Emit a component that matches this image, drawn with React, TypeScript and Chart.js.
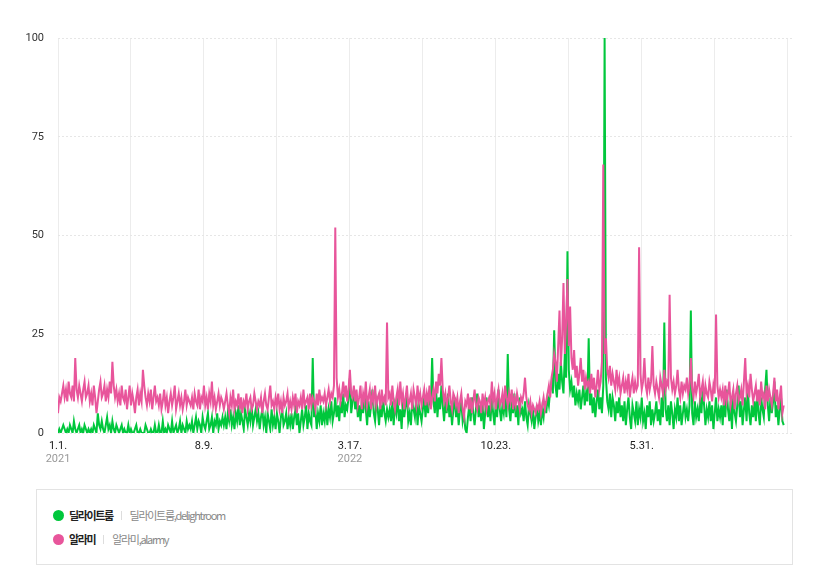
import React, { useEffect, useRef } from "react";
import { Chart, registerables } from "chart.js";

Chart.register(...registerables);

// ---- data (one point every 2 days, starting 2021-01-01) ----
const STEP_DAYS = 2;
const X_MAX_DAYS = 1108;
const GRID_DAYS = [0, 110, 220, 330, 440, 550, 660, 770, 880, 990, 1100];
const TICK_DAYS = [0, 220, 440, 660, 880];
const TICK_LABELS = ["1.1.", "8.9.", "3.17.", "10.23.", "5.31."];
const YEAR_LABELS = ["2021", "", "2022", "", ""];
const Y_TICKS = [0, 25, 50, 75, 100];

const SERIES_NAMES = ["딜라이트룸", "알라미"];
const SERIES_KEYWORDS = ["딜라이트룸,delightroom", "알라미,alarmy"];
const SERIES_COLORS = ["#00c73c", "#e8559b"];

const DELIGHTROOM = [
  0,1,0,1,2,1,0,1,0,2,1,0,3,1,0,1,2,0,1,0,2,1,0,1,0,
  1,0,2,1,0,5,2,1,3,1,0,2,4,1,2,0,3,1,0,2,1,0,1,2,0,
  1,0,0,2,0,1,0,0,1,2,0,0,1,0,0,0,2,1,0,0,1,0,0,2,0,
  0,2,0,0,3,0,1,0,2,1,0,3,0,1,2,0,1,3,0,2,1,0,3,1,2,
  1,3,0,2,4,1,3,2,0,4,2,1,3,5,1,2,4,0,3,2,5,1,3,2,4,
  2,4,1,5,3,6,2,4,1,5,3,7,2,5,3,1,6,4,2,5,3,7,2,4,6,
  3,5,1,4,6,2,4,0,5,3,1,6,2,4,1,5,3,0,4,6,2,3,5,1,4,
  2,5,1,4,6,2,5,0,3,6,2,4,7,1,5,3,2,19,4,6,1,5,3,7,2,
  5,3,7,2,6,4,8,3,5,9,4,7,3,8,5,10,4,7,6,9,14,5,8,11,6,
  9,4,7,3,8,5,10,6,2,8,4,7,11,5,3,8,6,2,7,4,9,5,3,6,4,
  6,3,8,2,7,5,9,3,6,1,8,4,7,10,3,5,2,8,6,4,9,2,7,5,3,
  6,9,4,8,5,10,7,19,8,5,11,4,9,6,12,7,3,8,5,10,4,7,2,6,9,
  4,7,2,6,8,3,5,1,0,4,7,3,9,5,2,6,10,4,7,3,8,1,5,9,4,
  7,3,9,5,2,8,4,11,6,3,7,5,9,4,20,6,3,8,5,10,4,7,2,9,5,
  6,3,8,4,2,7,5,3,6,1,4,7,3,5,2,6,4,8,5,9,7,11,13,10,26,
  12,9,15,11,18,13,10,20,14,46,16,11,13,9,12,7,10,8,11,6,9,12,7,10,8,
  24,7,10,5,9,4,8,11,6,9,5,12,100,14,8,6,10,4,9,7,3,8,5,9,4,
  7,3,8,2,6,9,4,1,7,5,3,8,2,6,4,9,3,5,1,7,4,8,2,6,3,
  5,8,3,6,2,9,4,28,6,3,7,2,8,5,1,6,4,9,3,7,2,5,8,4,6,
  3,7,31,5,2,8,4,6,3,9,5,12,7,2,6,4,8,3,7,1,5,9,3,6,4,
  7,2,9,4,11,6,3,8,1,10,5,3,7,12,4,8,2,6,9,3,11,5,2,7,4,
  8,3,10,5,2,9,6,4,11,16,7,3,9,5,8,13,4,7,2,6,9,3,2,
];

const ALARMY = [
  5,9,8,10,12,9,11,8,13,10,9,12,8,19,11,9,12,10,8,11,13,9,10,12,8,
  10,7,12,9,5,8,11,13,9,10,12,8,11,9,13,10,18,12,9,11,8,10,7,12,9,
  8,11,6,9,12,7,10,8,5,9,11,7,10,8,16,12,9,7,10,8,11,6,9,12,8,
  9,7,10,6,8,11,7,9,5,8,10,7,9,12,6,8,10,7,9,6,8,11,7,9,8,
  7,9,6,10,8,7,11,6,9,8,12,7,9,6,10,8,13,7,9,6,8,10,7,9,8,
  6,8,10,7,5,9,7,11,6,8,7,10,6,9,5,8,7,10,6,8,9,6,7,10,8,
  6,8,7,9,5,8,10,7,6,9,12,7,8,6,9,7,10,6,8,5,9,7,8,10,6,
  8,6,9,7,10,5,8,7,9,6,11,7,8,9,6,10,7,9,8,6,10,7,11,8,9,
  8,10,7,9,11,8,10,9,12,52,14,9,11,8,10,13,9,12,8,11,16,10,9,12,8,
  11,7,9,12,6,10,8,13,7,9,11,6,10,8,12,7,9,10,6,11,8,9,7,28,9,
  10,7,12,8,6,9,11,7,13,8,10,6,9,12,7,8,10,6,11,9,7,12,8,10,7,
  9,11,7,10,8,12,6,9,11,8,13,10,15,12,19,11,8,10,7,9,12,8,6,10,9,
  7,9,5,8,10,6,4,8,7,10,6,9,5,8,11,7,6,9,8,5,10,7,9,6,8,
  9,7,13,8,10,6,9,11,7,8,10,6,12,9,7,10,8,11,6,9,7,10,8,6,9,
  8,10,14,9,7,6,8,5,7,6,5,7,6,8,5,7,9,6,8,10,12,9,14,16,20,
  18,13,22,31,17,24,38,20,28,39,22,32,19,16,21,14,17,12,15,19,13,16,11,14,12,
  13,10,15,11,14,9,12,16,11,13,18,68,20,24,16,14,17,12,15,13,11,16,12,14,10,
  12,14,10,13,11,15,9,12,14,10,13,11,12,47,15,11,13,19,12,10,14,11,13,22,12,
  10,13,11,9,14,12,10,16,11,13,12,35,14,11,13,10,12,16,11,9,13,10,12,11,14,
  10,12,19,11,9,13,10,12,15,9,11,13,8,12,10,9,13,11,8,12,10,30,12,9,11,
  9,11,7,12,8,10,13,7,9,11,6,10,12,8,9,11,7,13,19,10,12,9,15,11,8,
  10,12,8,11,7,13,9,10,6,12,8,11,9,7,10,14,8,11,6,9,12,5,7,
];

const SERIES_VALUES = [DELIGHTROOM, ALARMY];

const TICK_FONT = { family: "Roboto, 'Noto Sans', sans-serif", size: 11 };

const yearPlugin = {
  id: "yearLabels",
  afterDraw(chart: any) {
    const { ctx, chartArea, scales } = chart;
    ctx.save();
    ctx.font = "11px Roboto, 'Noto Sans', sans-serif";
    ctx.fillStyle = "#999999";
    ctx.textAlign = "center";
    ctx.textBaseline = "middle";
    TICK_DAYS.forEach((d, i) => {
      const label = YEAR_LABELS[i];
      if (!label) return;
      const x = scales.x.getPixelForValue(d);
      ctx.fillText(label, x, chartArea.bottom + 26);
    });
    ctx.restore();
  },
};

export default function App() {
  const canvasRef = useRef<HTMLCanvasElement | null>(null);

  useEffect(() => {
    if (!canvasRef.current) return;
    const datasets = SERIES_VALUES.map((vals, s) => ({
      label: SERIES_NAMES[s],
      data: vals.map((y, i) => ({ x: i * STEP_DAYS, y })),
      borderColor: SERIES_COLORS[s],
      backgroundColor: SERIES_COLORS[s],
      borderWidth: 2,
      pointRadius: 0,
      pointHoverRadius: 0,
      tension: 0,
      fill: false,
      order: s === 1 ? 0 : 1,
    }));

    const chart = new Chart(canvasRef.current, {
      type: "line",
      data: { datasets },
      plugins: [yearPlugin],
      options: {
        animation: false,
        responsive: false,
        maintainAspectRatio: false,
        events: [],
        layout: { padding: { top: 38, right: 35, left: 0, bottom: 0 } },
        plugins: {
          legend: { display: false },
          tooltip: { enabled: false },
        },
        scales: {
          x: {
            type: "linear",
            min: 0,
            max: X_MAX_DAYS,
            afterBuildTicks: (scale: any) => {
              scale.ticks = GRID_DAYS.map((v) => ({ value: v }));
            },
            afterFit: (scale: any) => {
              scale.height = 47;
            },
            grid: { color: "#ececec", lineWidth: 1, drawTicks: false },
            border: { display: false },
            ticks: {
              autoSkip: false,
              maxRotation: 0,
              padding: 7,
              color: "#222222",
              font: TICK_FONT,
              callback: (value: any) => {
                const idx = TICK_DAYS.indexOf(Number(value));
                return idx >= 0 ? TICK_LABELS[idx] : "";
              },
            },
          },
          y: {
            min: 0,
            max: 100,
            afterBuildTicks: (scale: any) => {
              scale.ticks = Y_TICKS.map((v) => ({ value: v }));
            },
            afterFit: (scale: any) => {
              scale.width = 58;
            },
            grid: { color: "#e6e6e6", lineWidth: 1, drawTicks: false },
            border: { display: false, dash: [2, 2] },
            ticks: {
              padding: 14,
              color: "#333333",
              font: TICK_FONT,
            },
          },
        },
      },
    } as any);

    return () => chart.destroy();
  }, []);

  const rowStyle: React.CSSProperties = {
    display: "flex",
    alignItems: "center",
    height: 16,
    marginBottom: 8,
    whiteSpace: "nowrap",
  };

  return (
    <div
      style={{
        position: "absolute",
        left: 0,
        top: 0,
        width: 828,
        height: 575,
        background: "#ffffff",
        fontFamily: "'Noto Sans CJK KR', 'Noto Sans', sans-serif",
      }}
    >
      <canvas
        ref={canvasRef}
        width={828}
        height={480}
        style={{ position: "absolute", left: 0, top: 0, width: 828, height: 480, display: "block" }}
      />
      <div
        style={{
          position: "absolute",
          left: 36,
          top: 489,
          width: 757,
          height: 76,
          boxSizing: "border-box",
          border: "1px solid #e3e3e3",
          paddingTop: 17,
          paddingLeft: 16,
        }}
      >
        {SERIES_NAMES.map((name, s) => (
          <div key={name} style={rowStyle}>
            <span
              style={{
                display: "inline-block",
                width: 11,
                height: 11,
                borderRadius: "50%",
                background: SERIES_COLORS[s],
                marginRight: 5,
              }}
            />
            <span
              style={{
                fontSize: 11,
                fontWeight: 700,
                color: "#222222",
                letterSpacing: "-1.4px",
                marginRight: 8,
              }}
            >
              {name}
            </span>
            <span
              style={{
                display: "inline-block",
                width: 1,
                height: 9,
                background: "#dddddd",
                marginRight: 8,
              }}
            />
            <span
              style={{
                fontSize: 11,
                color: "#888888",
                letterSpacing: "-1.3px",
              }}
            >
              {SERIES_KEYWORDS[s]}
            </span>
          </div>
        ))}
      </div>
    </div>
  );
}
